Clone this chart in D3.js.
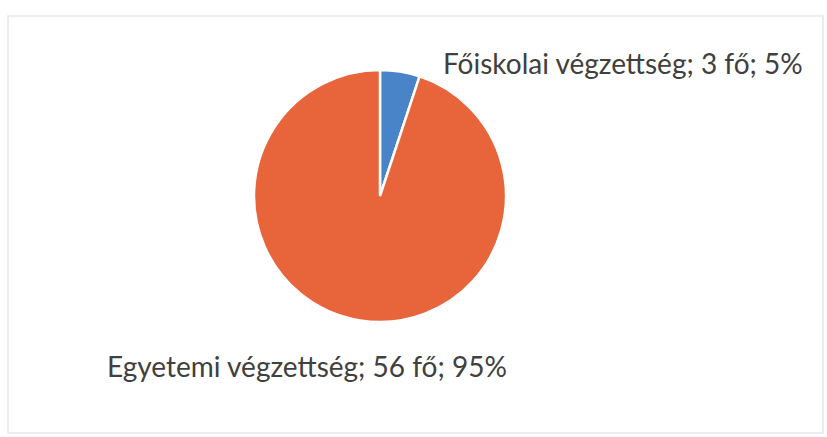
<!DOCTYPE html>
<html lang="hu">
<head>
<meta charset="utf-8">
<title>Végzettség megoszlása</title>
<script src="https://cdn.jsdelivr.net/npm/d3@7"></script>
<style>
  body { margin: 0; background: #fff; }
  text { font-family: Lato, "Open Sans", sans-serif; fill: #404040; }
</style>
</head>
<body>
<script>
// data
var categories = ["Főiskolai végzettség", "Egyetemi végzettség"];
var counts = [3, 56];
var percents = ["5%", "95%"];
var colors = ["#4a84c8", "#e8643a"];

var w = 827, h = 437;
var cx = 380, cy = 196, radius = 126;

var svg = d3.select("body").append("svg")
    .attr("width", w)
    .attr("height", h);

// faint outer frame of the chart area
svg.append("rect")
    .attr("x", 8).attr("y", 16)
    .attr("width", 815).attr("height", 417)
    .attr("fill", "none")
    .attr("stroke", "#e6e6e6")
    .attr("stroke-width", 1.5);

var pie = d3.pie().sort(null).value(function(d) { return d; });
var arc = d3.arc().innerRadius(0).outerRadius(radius);

var g = svg.append("g").attr("transform", "translate(" + cx + "," + cy + ")");

g.selectAll("path")
    .data(pie(counts))
    .enter()
    .append("path")
    .attr("d", arc)
    .attr("fill", function(d, i) { return colors[i]; })
    .attr("stroke", "#fff")
    .attr("stroke-width", 2.5);

// labels: first one beside the small slice, second one below the pie
var labelPos = [[443, 74], [107, 377]];

svg.selectAll("text.lbl")
    .data(categories)
    .enter()
    .append("text")
    .attr("class", "lbl")
    .attr("x", function(d, i) { return labelPos[i][0]; })
    .attr("y", function(d, i) { return labelPos[i][1]; })
    .attr("font-size", "28px")
    .text(function(d, i) { return d + "; " + counts[i] + " fő; " + percents[i]; });
</script>
</body>
</html>
